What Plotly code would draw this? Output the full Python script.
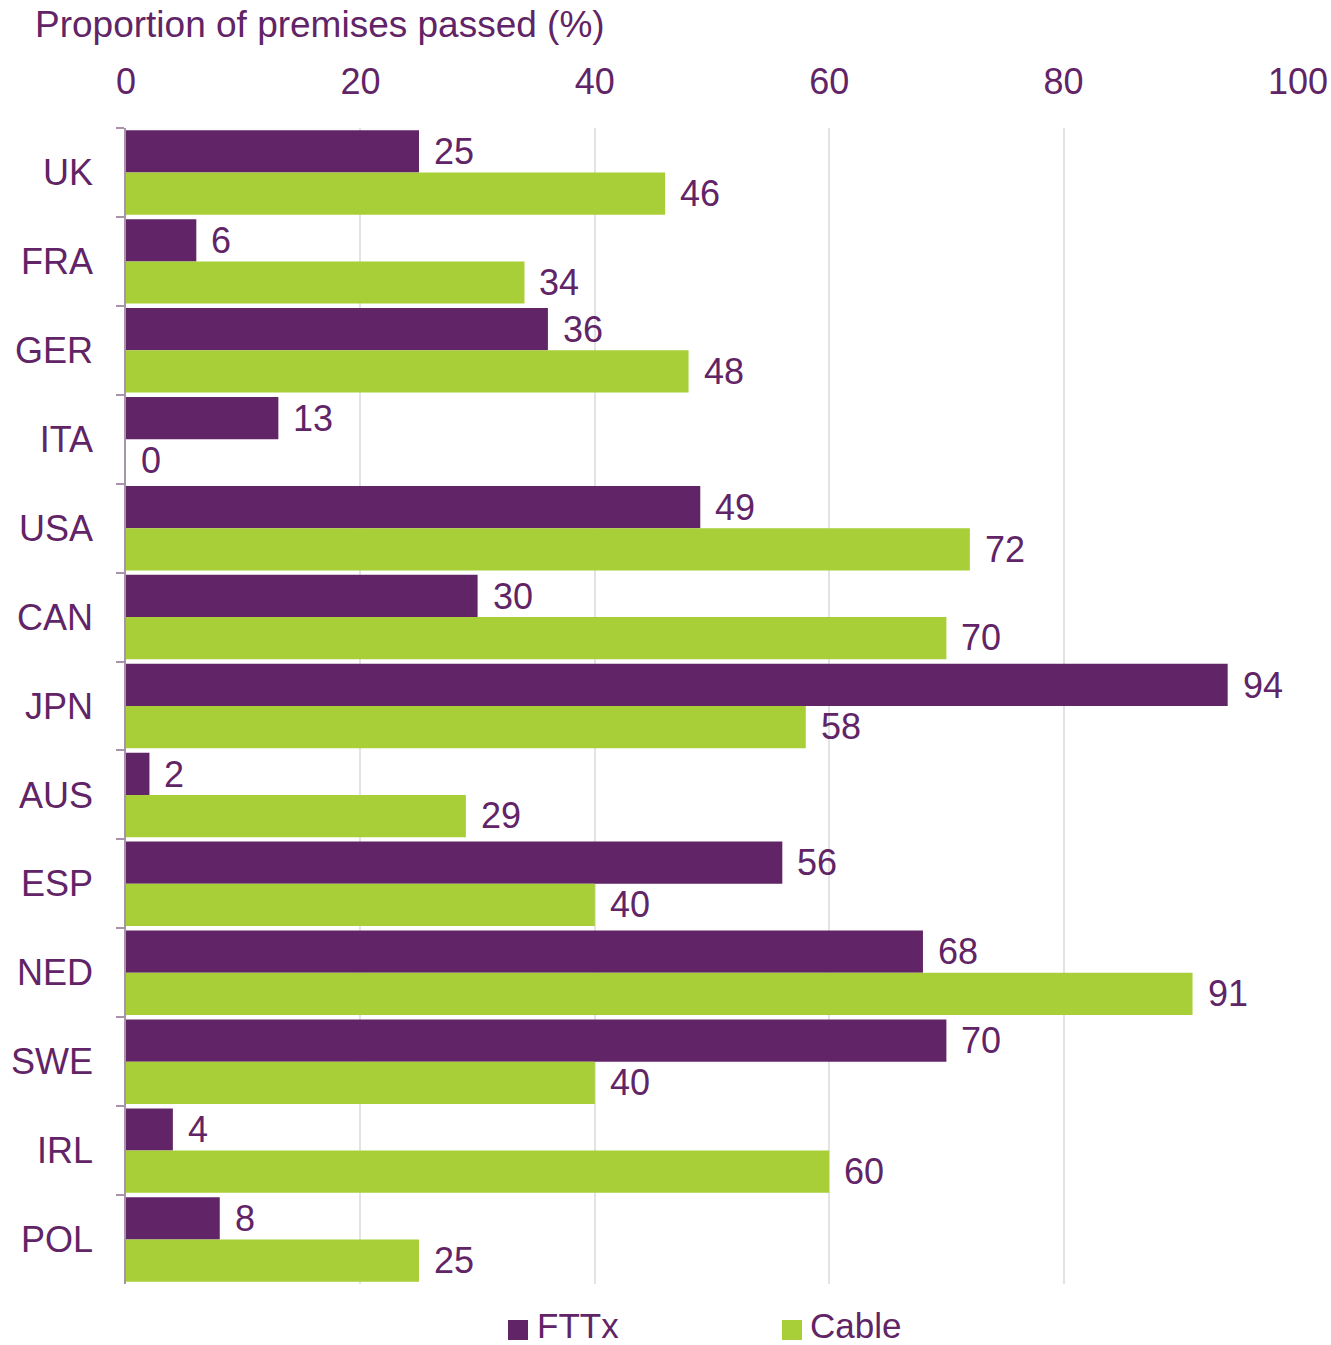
import plotly.graph_objects as go

# Proportion of premises passed by network type, by country
countries = ["UK", "FRA", "GER", "ITA", "USA", "CAN", "JPN", "AUS", "ESP", "NED", "SWE", "IRL", "POL"]
fttx = [25, 6, 36, 13, 49, 30, 94, 2, 56, 68, 70, 4, 8]
cable = [46, 34, 48, 0, 72, 70, 58, 29, 40, 91, 40, 60, 25]
x_ticks = [0, 20, 40, 60, 80, 100]

PURPLE = "#612466"
GREEN = "#a8cf38"
TEXT = "#612466"
FONT = "Liberation Sans, Arial, sans-serif"
FS = 36

W, H = 1331, 1345
L, R, T, B = 126, 33, 128, 61
PW, PH = W - L - R, H - T - B


def px_x(px):
    return (px - L) / PW


def px_y(py):
    return (H - B - py) / PH


fig = go.Figure()
fig.add_trace(go.Bar(y=countries, x=fttx, name="FTTx", orientation="h",
                     marker=dict(color=PURPLE, line=dict(width=0)), showlegend=False))
fig.add_trace(go.Bar(y=countries, x=cable, name="Cable", orientation="h",
                     marker=dict(color=GREEN, line=dict(width=0)), showlegend=False))

# value labels just past the end of each bar
annotations = []
for i, c in enumerate(countries):
    for vals, off in ((fttx, -0.235), (cable, 0.235)):
        annotations.append(dict(
            x=vals[i], y=i + off, xref="x", yref="y", text=str(vals[i]),
            showarrow=False, xanchor="left", yanchor="middle", xshift=13,
            font=dict(family=FONT, size=FS, color=TEXT)))

# axis title in the top-left corner
annotations.append(dict(
    x=px_x(33), y=px_y(25), xref="paper", yref="paper", text="Proportion of premises passed (%)",
    showarrow=False, xanchor="left", yanchor="middle",
    font=dict(family=FONT, size=37, color=TEXT)))

# legend drawn as swatches and labels below the plot
shapes = []
legend_items = [("FTTx", PURPLE, 508, 535), ("Cable", GREEN, 782, 808)]
for label, color, sx, tx in legend_items:
    shapes.append(dict(type="rect", xref="paper", yref="paper",
                       x0=px_x(sx), x1=px_x(sx + 20), y0=px_y(1340), y1=px_y(1320),
                       fillcolor=color, line=dict(width=0)))
    annotations.append(dict(x=px_x(tx), y=px_y(1325), xref="paper", yref="paper", text=label,
                            showarrow=False, xanchor="left", yanchor="middle",
                            font=dict(family=FONT, size=35, color=TEXT)))

fig.update_layout(
    width=W, height=H,
    margin=dict(l=L, r=R, t=T, b=B, autoexpand=False),
    paper_bgcolor="white", plot_bgcolor="white",
    barmode="group", bargap=0.05, bargroupgap=0,
    font=dict(family=FONT, size=FS, color=TEXT),
    annotations=annotations, shapes=shapes,
    showlegend=False,
)
fig.update_xaxes(
    side="top", range=[0, 100], tickvals=x_ticks, ticktext=[str(v) for v in x_ticks],
    showgrid=True, gridcolor="#e3e3e3", gridwidth=1.5, zeroline=False, showline=False,
    ticks="", ticklabelstandoff=26, tickfont=dict(family=FONT, size=FS, color=TEXT),
    automargin=False, fixedrange=True,
)
fig.update_yaxes(
    categoryorder="array", categoryarray=countries, autorange="reversed",
    showline=True, linecolor="#a893ab", linewidth=1.5,
    ticks="outside", tickson="boundaries", ticklen=8, tickcolor="#a893ab", tickwidth=1.5,
    ticklabelstandoff=24, tickfont=dict(family=FONT, size=FS, color=TEXT),
    showgrid=False, zeroline=False, automargin=False, fixedrange=True,
)

fig.write_html("out.html")
